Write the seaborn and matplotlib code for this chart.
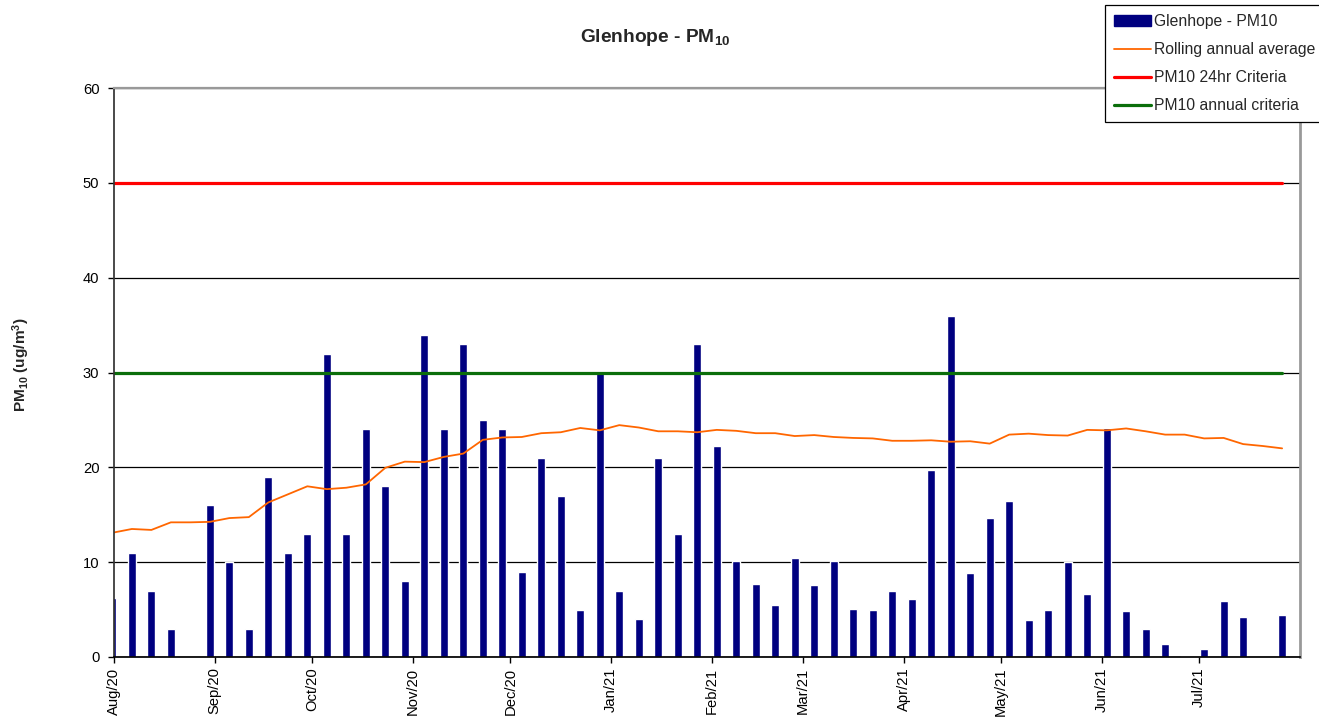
import numpy as np
import pandas as pd
import matplotlib
matplotlib.use("Agg")
import matplotlib.pyplot as plt
import matplotlib.dates as mdates
from matplotlib.patches import Patch
from matplotlib.lines import Line2D
import seaborn as sns

# sampling dates (1-in-6 day PM10 sampling), Jul/20 - Jul/21
sample_dates = pd.date_range("2020-07-31 12:00", periods=61, freq="6D")

# daily PM10 (ug/m3), nan = no sample
pm10 = [6.2, 11, 7, 3, np.nan, 16, 10, 3, 19, 11,
        13, 32, 13, 24, 18, 8, 34, 24, 33, 25,
        24, 9, 21, 17, 5, 30, 7, 4, 21, 13,
        33, 22.2, 10.1, 7.7, 5.5, 10.4, 7.6, 10.1, 5.1, 5.0,
        7.0, 6.1, 19.7, 36.0, 8.9, 14.7, 16.5, 3.9, 5.0, 10.0,
        6.6, 24.2, 4.8, 2.9, 1.4, 0.1, 0.8, 5.9, 4.2, np.nan,
        4.4]

# rolling annual average
rolling_avg = [13.1, 13.5, 13.4, 14.2, 14.2, 14.25, 14.65, 14.75, 16.3, 17.15,
               18.0, 17.7, 17.85, 18.2, 19.95, 20.6, 20.55, 21.1, 21.45, 22.9,
               23.15, 23.2, 23.6, 23.7, 24.15, 23.9, 24.45, 24.2, 23.8, 23.8,
               23.7, 23.95, 23.85, 23.6, 23.6, 23.3, 23.4, 23.2, 23.1, 23.05,
               22.8, 22.8, 22.85, 22.7, 22.75, 22.5, 23.45, 23.55, 23.4, 23.35,
               23.95, 23.9, 24.1, 23.8, 23.45, 23.45, 23.05, 23.1, 22.45, 22.25,
               22.0]

criteria_24hr = 50
criteria_annual = 30

month_ticks = pd.date_range("2020-08-01", "2021-07-01", freq="MS")

navy = "#000080"
orange = "#FF6600"
red = "#FF0000"
green = "#0B6E0B"

sns.set_theme(style="ticks")
plt.rcParams["font.family"] = ["Liberation Sans", "DejaVu Sans"]
plt.rcParams["mathtext.default"] = "regular"

xnum = mdates.date2num(sample_dates)
df = pd.DataFrame({"x": xnum, "pm10": pm10, "avg": rolling_avg})
df["crit24"] = criteria_24hr
df["critann"] = criteria_annual

fig = plt.figure(figsize=(13.19, 7.2), dpi=100)
ax = fig.add_axes([114 / 1319, 63 / 720, 1186 / 1319, 569 / 720])

bars = df.dropna(subset=["pm10"])
sns.barplot(data=bars, x="x", y="pm10", native_scale=True, orient="x",
            width=0.42, color=navy, saturation=1, errorbar=None, ax=ax, zorder=2)

sns.lineplot(data=df, x="x", y="crit24", color=red, lw=2.3, ax=ax, zorder=3)
sns.lineplot(data=df, x="x", y="critann", color=green, lw=2.3, ax=ax, zorder=3)
sns.lineplot(data=df, x="x", y="avg", color=orange, lw=1.3, ax=ax, zorder=4)

ax.set_xlim(mdates.date2num(pd.Timestamp("2020-08-01")),
            mdates.date2num(pd.Timestamp("2021-08-01")))
ax.set_xticks(mdates.date2num(month_ticks))
ax.xaxis.set_major_formatter(mdates.DateFormatter("%b/%y"))
plt.setp(ax.get_xticklabels(), rotation=90)

ax.set_ylim(0, 60)
ax.set_yticks(range(0, 61, 10))
ax.yaxis.grid(True, color="black", lw=0.9)
ax.set_axisbelow(True)
ax.set_xlabel("")
ax.set_ylabel("")

ax.tick_params(axis="both", direction="out", length=4.5, width=1, colors="black",
               labelsize=10.6)
ax.tick_params(axis="x", pad=3)
ax.tick_params(axis="y", pad=6)
ax.spines["left"].set_color("#333333")
ax.spines["bottom"].set_color("black")
ax.spines["top"].set_color("#999999")
ax.spines["right"].set_color("#999999")
ax.spines["top"].set_linewidth(1.6)
ax.spines["right"].set_linewidth(2.0)
for s in ax.spines.values():
    s.set_zorder(5)

fig.text(655 / 1319, 1 - 37 / 720, r"Glenhope - PM$_{10}$", ha="center", va="center",
         fontsize=13.8, fontweight="bold")
fig.text(21 / 1319, 1 - 365 / 720, r"PM$_{10}$ (ug/m$^{3}$)", ha="center", va="center",
         rotation=90, fontsize=11.1, fontweight="bold")

handles = [Patch(facecolor=navy, edgecolor=navy),
           Line2D([], [], color=orange, lw=1.3),
           Line2D([], [], color=red, lw=2.3),
           Line2D([], [], color=green, lw=2.3)]
labels = ["Glenhope - PM10", "Rolling annual average",
          "PM10 24hr Criteria", "PM10 annual criteria"]
leg = fig.legend(handles, labels, loc="upper left",
                 bbox_to_anchor=(1105 / 1319, 1 - 5 / 720),
                 bbox_transform=fig.transFigure, frameon=True, fancybox=False,
                 edgecolor="black", framealpha=1, fontsize=11.3, borderaxespad=0,
                 handlelength=2.35, handletextpad=0.15, labelspacing=0.82,
                 borderpad=0.6)
leg.get_frame().set_linewidth(0.9)

fig.savefig("out.png", dpi=100)
